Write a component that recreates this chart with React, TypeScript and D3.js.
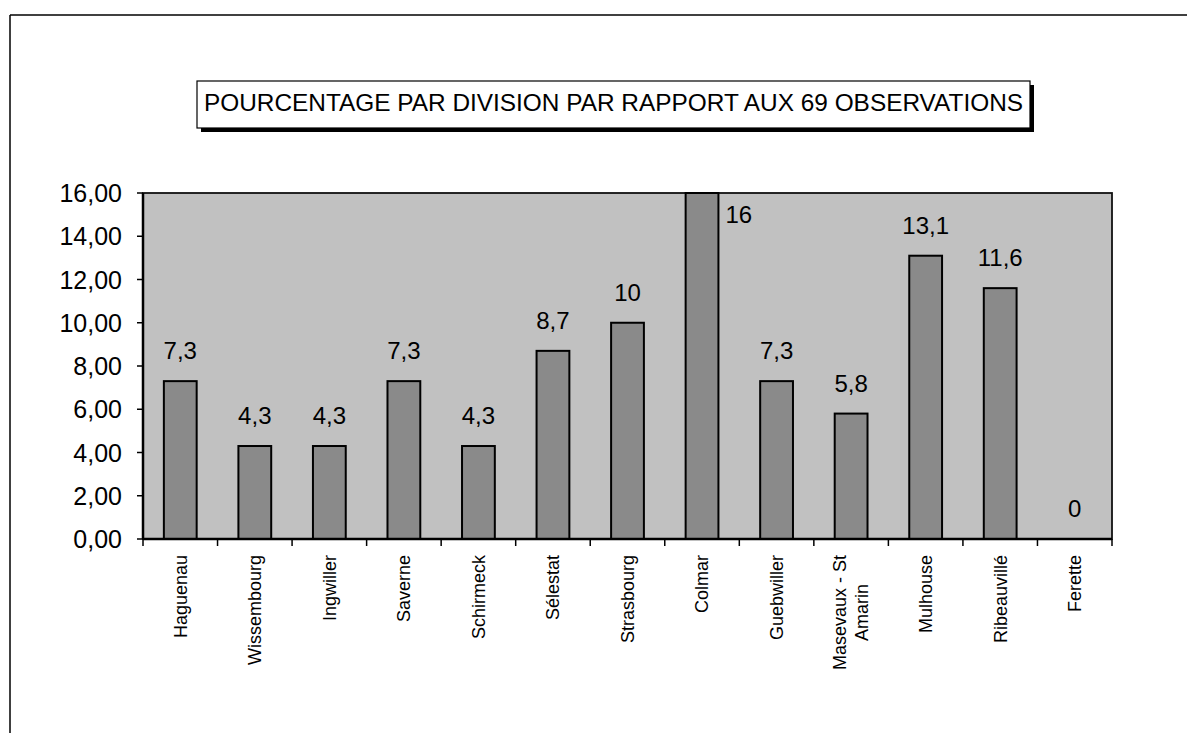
import React, { useEffect, useRef } from 'react';
import * as d3 from 'd3';

const title = 'POURCENTAGE PAR DIVISION PAR RAPPORT AUX 69 OBSERVATIONS';
const categories = [
  'Haguenau',
  'Wissembourg',
  'Ingwiller',
  'Saverne',
  'Schirmeck',
  'Sélestat',
  'Strasbourg',
  'Colmar',
  'Guebwiller',
  'Masevaux - St\nAmarin',
  'Mulhouse',
  'Ribeauvillé',
  'Ferette',
];
const values = [7.3, 4.3, 4.3, 7.3, 4.3, 8.7, 10, 16, 7.3, 5.8, 13.1, 11.6, 0];
const yTicks = [0, 2, 4, 6, 8, 10, 12, 14, 16];

const FONT = '"Liberation Sans", Arial, Helvetica, sans-serif';

export default function App() {
  const ref = useRef<SVGSVGElement>(null);

  useEffect(() => {
    const W = 1187;
    const H = 733;
    const svg = d3.select(ref.current as SVGSVGElement);
    svg.selectAll('*').remove();

    const plot = { left: 143, top: 193, right: 1112, bottom: 539 };
    const x = d3
      .scaleBand<string>()
      .domain(categories)
      .range([plot.left, plot.right])
      .paddingInner(0.56)
      .paddingOuter(0.28);
    const y = d3.scaleLinear().domain([0, 16]).range([plot.bottom, plot.top]);

    const locale = d3.formatLocale({
      decimal: ',',
      thousands: ' ',
      grouping: [3],
      currency: ['', ' €'],
    });
    const fmtAxis = locale.format('.2f');
    const fmtVal = (v: number) => String(v).replace('.', ',');

    svg.append('rect').attr('x', 0).attr('y', 0).attr('width', W).attr('height', H).attr('fill', '#fff');

    // outer frame (top and left edges of scanned page)
    svg.append('line').attr('x1', 10).attr('y1', 15).attr('x2', W).attr('y2', 15)
      .attr('stroke', '#000').attr('stroke-width', 1.5);
    svg.append('line').attr('x1', 10).attr('y1', 15).attr('x2', 10).attr('y2', H)
      .attr('stroke', '#000').attr('stroke-width', 1.5);

    // title box with shadow
    const tb = { x: 197, y: 81, w: 833, h: 47 };
    svg.append('rect').attr('x', tb.x + 4).attr('y', tb.y + 4).attr('width', tb.w).attr('height', tb.h).attr('fill', '#000');
    svg.append('rect').attr('x', tb.x).attr('y', tb.y).attr('width', tb.w).attr('height', tb.h)
      .attr('fill', '#fff').attr('stroke', '#000').attr('stroke-width', 1.2);
    svg.append('text').attr('x', tb.x + tb.w / 2).attr('y', tb.y + 30)
      .attr('text-anchor', 'middle').attr('font-family', FONT).attr('font-size', 24.4).attr('fill', '#000')
      .text(title);

    // plot background
    svg.append('rect')
      .attr('x', plot.left).attr('y', plot.top)
      .attr('width', plot.right - plot.left).attr('height', plot.bottom - plot.top)
      .attr('fill', '#c1c1c1').attr('stroke', '#111').attr('stroke-width', 1.8);

    // bars
    svg.append('g').selectAll('rect').data(values).join('rect')
      .attr('x', (_d, i) => x(categories[i]) as number)
      .attr('y', (d) => y(d))
      .attr('width', x.bandwidth())
      .attr('height', (d) => y(0) - y(d))
      .attr('fill', '#8a8a8a')
      .attr('stroke', '#000')
      .attr('stroke-width', 2)
      .attr('opacity', (d) => (d === 0 ? 0 : 1));

    // axes lines
    svg.append('line').attr('x1', plot.left).attr('x2', plot.left).attr('y1', plot.top).attr('y2', plot.bottom)
      .attr('stroke', '#000').attr('stroke-width', 2.5);
    svg.append('line').attr('x1', plot.left).attr('x2', plot.right).attr('y1', plot.bottom).attr('y2', plot.bottom)
      .attr('stroke', '#000').attr('stroke-width', 2.5);

    // y ticks and labels
    const gy = svg.append('g');
    gy.selectAll('line').data(yTicks).join('line')
      .attr('x1', plot.left - 6).attr('x2', plot.left)
      .attr('y1', (d) => y(d)).attr('y2', (d) => y(d))
      .attr('stroke', '#000').attr('stroke-width', 1.5);
    gy.selectAll('text').data(yTicks).join('text')
      .attr('x', plot.left - 21).attr('y', (d) => y(d)).attr('dy', '0.36em')
      .attr('text-anchor', 'end').attr('font-family', FONT).attr('font-size', 25).attr('fill', '#000')
      .text((d) => fmtAxis(d));

    // x ticks at category boundaries
    const step = x.step();
    const bounds = d3.range(categories.length + 1).map((i) => plot.left + i * step);
    svg.append('g').selectAll('line').data(bounds).join('line')
      .attr('x1', (d) => d).attr('x2', (d) => d)
      .attr('y1', plot.bottom).attr('y2', plot.bottom + 7)
      .attr('stroke', '#000').attr('stroke-width', 1.5);

    // value labels
    const gv = svg.append('g');
    values.forEach((v, i) => {
      const c = categories[i];
      const bx = x(c) as number;
      const cx = bx + x.bandwidth() / 2;
      let ty = y(v) - 22;
      let tx = cx;
      let anchor = 'middle';
      if (ty - 17 < plot.top) {
        tx = bx + x.bandwidth() + 7;
        ty = plot.top + 30;
        anchor = 'start';
      }
      gv.append('text').attr('x', tx).attr('y', ty).attr('text-anchor', anchor)
        .attr('font-family', FONT).attr('font-size', 24).attr('fill', '#000')
        .text(fmtVal(v));
    });

    // category labels (rotated)
    const gc = svg.append('g');
    const lineH = 22;
    categories.forEach((c) => {
      const cx = (x(c) as number) + x.bandwidth() / 2;
      const lines = c.split('\n');
      const g = gc.append('g').attr('transform', `translate(${cx},${plot.bottom + 16}) rotate(-90)`);
      const texts = lines.map((ln, j) =>
        g.append('text')
          .attr('y', (j - (lines.length - 1) / 2) * lineH)
          .attr('dy', '0.35em')
          .attr('text-anchor', 'middle')
          .attr('font-family', FONT).attr('font-size', 18).attr('fill', '#000')
          .text(ln)
      );
      const maxW = Math.max(...texts.map((t) => (t.node() as SVGTextElement).getComputedTextLength()));
      texts.forEach((t) => t.attr('x', -maxW / 2));
    });
  }, []);

  return (
    <svg
      ref={ref}
      width={1187}
      height={733}
      style={{ position: 'absolute', left: 0, top: 0, display: 'block' }}
    />
  );
}
